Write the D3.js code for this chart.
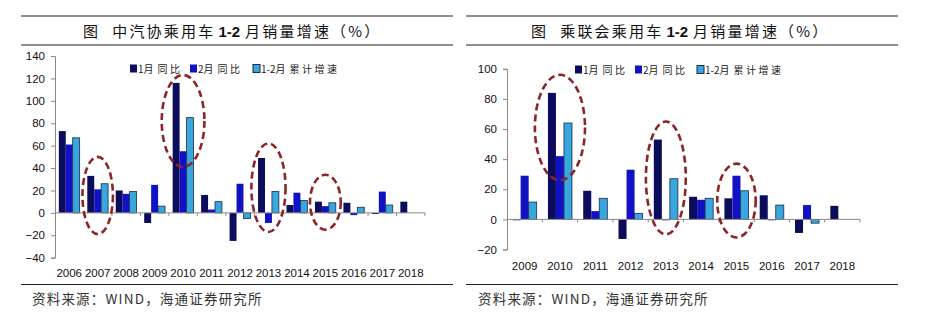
<!DOCTYPE html>
<html>
<head>
<meta charset="utf-8">
<script src="https://cdn.jsdelivr.net/npm/d3@7"></script>
<style>
  body { margin: 0; background: #fff; }
  svg { display: block; }
  text { font-family: "Liberation Sans", Arial, sans-serif; }
  .cjk { font-family: "Noto Sans CJK SC", sans-serif; }
</style>
</head>
<body>
<svg id="chart"></svg>
<script>
// left chart: CAAM passenger car Jan-Feb sales growth
let yearsA = ['2006', '2007', '2008', '2009', '2010', '2011', '2012', '2013', '2014', '2015', '2016', '2017', '2018'];
let janA = [73, 33, 20, -9, 116, 16, -25, 49, 7, 10, 9, -1, 10];
let febA = [61, 21, 17, 25, 55, 3, 26, -9, 18, 6, -2, 19, null];
let cumA = [67, 26, 19, 6, 85, 10, -5, 19, 11, 9, 5, 7, null];
let ticksA = [-40, -20, 0, 20, 40, 60, 80, 100, 120, 140];
let ringsA = [
  {year: '2007', top: 50, bottom: -19},
  {year: '2010', top: 123, bottom: 41},
  {year: '2013', top: 62, bottom: -17},
  {year: '2015', top: 34, bottom: -15}
];

// right chart: CPCA passenger car Jan-Feb sales growth
let yearsB = ['2009', '2010', '2011', '2012', '2013', '2014', '2015', '2016', '2017', '2018'];
let janB = [-0.6, 84, 19, -13, 53, 15, 14, 16, -9, 9];
let febB = [29, 42, 5.5, 33, -0.6, 13, 29, -0.6, 9.5, null];
let cumB = [11.5, 64, 14, 4, 27, 14, 19, 9.5, -2.5, null];
let ticksB = [-20, 0, 20, 40, 60, 80, 100];
let ringsB = [
  {year: '2010', top: 96, bottom: 26},
  {year: '2013', top: 65, bottom: -10},
  {year: '2015', top: 37, bottom: -12}
];

let seriesNames = [['1月', '同比'], ['2月', '同比'], ['1-2月', '累计增速']];
let colors = ['#0c0c5c', '#1212c4', '#37a7dd'];

let width = 926;
let height = 323;

let svg = d3.select('#chart').attr('width', width).attr('height', height);

let drawPanel = (cfg) => {
  let g = svg.append('g');

  // title rules
  [cfg.ruleTop, cfg.ruleBottom].forEach(y => {
    g.append('line')
      .attr('x1', cfg.ruleX0).attr('x2', cfg.ruleX1)
      .attr('y1', y).attr('y2', y)
      .attr('stroke', '#222').attr('stroke-width', 1.2);
  });

  let title = g.append('text')
    .attr('class', 'cjk')
    .attr('x', cfg.titleX).attr('y', 36.5)
    .attr('font-size', 15).attr('fill', '#111')
    .attr('letter-spacing', 2.2);
  title.append('tspan').text('图');
  title.append('tspan').attr('dx', 12).text(cfg.title[0]);
  title.append('tspan').attr('dx', 3)
    .attr('font-family', 'Liberation Sans').attr('font-weight', 'bold')
    .attr('letter-spacing', 0).text('1-2');
  title.append('tspan').attr('dx', 5).text(cfg.title[1]);

  // footer
  g.append('line')
    .attr('x1', cfg.ruleX0).attr('x2', cfg.ruleX1)
    .attr('y1', 284.5).attr('y2', 284.5)
    .attr('stroke', '#222').attr('stroke-width', 1.2);
  g.append('text')
    .attr('class', 'cjk')
    .attr('x', cfg.footX).attr('y', 304)
    .attr('font-size', 13.5).attr('fill', '#333')
    .attr('letter-spacing', 1.2)
    .text('资料来源：WIND，海通证券研究所');

  let xScale = d3.scaleBand()
    .domain(cfg.years)
    .range([cfg.x0, cfg.x1]);

  let inner = d3.scaleBand()
    .domain([0, 1, 2])
    .range([0, xScale.bandwidth()])
    .paddingOuter(cfg.groupPad);

  let yScale = d3.scaleLinear()
    .domain(cfg.yDomain)
    .range([cfg.yBottom, cfg.yTop]);

  // bars
  let rows = [];
  cfg.years.forEach((yr, i) => {
    cfg.series.forEach((vals, s) => {
      if (vals[i] !== null) rows.push({year: yr, s: s, v: vals[i]});
    });
  });

  g.selectAll('rect.bar')
    .data(rows)
    .enter()
    .append('rect')
    .attr('class', 'bar')
    .attr('x', d => xScale(d.year) + inner(d.s))
    .attr('width', inner.bandwidth())
    .attr('y', d => yScale(Math.max(0, d.v)))
    .attr('height', d => Math.abs(yScale(d.v) - yScale(0)))
    .attr('fill', d => colors[d.s])
    .attr('stroke', d => d.s === 2 ? '#1a2a4a' : 'none')
    .attr('stroke-width', 0.8);

  // y axis
  let yAxis = d3.axisLeft(yScale)
    .tickValues(cfg.ticks)
    .tickSize(4)
    .tickPadding(6)
    .tickFormat(d3.format('d'));
  let ya = g.append('g')
    .attr('transform', 'translate(' + cfg.x0 + ',0)')
    .call(yAxis);
  ya.select('.domain').attr('stroke', '#888');
  ya.selectAll('.tick line').attr('stroke', '#888');
  ya.selectAll('.tick text')
    .attr('font-size', 11.5).attr('fill', '#111')
    .attr('font-family', 'Liberation Sans');

  // x axis along zero line
  let xa = g.append('g');
  xa.append('line')
    .attr('x1', cfg.x0).attr('x2', cfg.x1)
    .attr('y1', yScale(0)).attr('y2', yScale(0))
    .attr('stroke', '#888');
  let bounds = cfg.years.map(y => xScale(y)).concat([cfg.x1]);
  xa.selectAll('line.tk')
    .data(bounds.slice(1))
    .enter()
    .append('line')
    .attr('class', 'tk')
    .attr('x1', d => d).attr('x2', d => d)
    .attr('y1', yScale(0)).attr('y2', yScale(0) + 3)
    .attr('stroke', '#888');
  xa.selectAll('text')
    .data(cfg.years)
    .enter()
    .append('text')
    .attr('x', d => xScale(d) + xScale.bandwidth() / 2)
    .attr('y', cfg.labelY)
    .attr('text-anchor', 'middle')
    .attr('font-size', 11.5).attr('fill', '#111')
    .text(d => d);

  // dashed rings
  g.selectAll('ellipse')
    .data(cfg.rings)
    .enter()
    .append('ellipse')
    .attr('cx', d => xScale(d.year) + xScale.bandwidth() / 2)
    .attr('cy', d => (yScale(d.top) + yScale(d.bottom)) / 2)
    .attr('rx', (d, i) => xScale.bandwidth() * cfg.ringSpan[i] / 2)
    .attr('ry', d => (yScale(d.bottom) - yScale(d.top)) / 2)
    .attr('fill', 'none')
    .attr('stroke', '#8a2629')
    .attr('stroke-width', 2.6)
    .attr('stroke-dasharray', '7,4');

  // legend
  let lg = g.append('g');
  seriesNames.forEach((name, i) => {
    let lx = cfg.legendX[i];
    lg.append('rect')
      .attr('x', lx).attr('y', cfg.legendY - 4.5)
      .attr('width', 7).attr('height', 8)
      .attr('fill', colors[i])
      .attr('stroke', i === 2 ? '#1a2a4a' : 'none')
      .attr('stroke-width', 1);
    let t = lg.append('text')
      .attr('class', 'cjk')
      .attr('x', lx + 8).attr('y', cfg.legendY + 3.5)
      .attr('font-size', 10).attr('fill', '#222');
    t.append('tspan').text(name[0]);
    t.append('tspan').attr('dx', 4).attr('letter-spacing', 2.5).text(name[1]);
  });
};

drawPanel({
  years: yearsA, series: [janA, febA, cumA], ticks: ticksA, rings: ringsA,
  ringSpan: [1.07, 1.5, 1.2, 1.08],
  title: ['中汽协乘用车', '月销量增速（%）'],
  titleX: 83, footX: 32,
  ruleX0: 21, ruleX1: 453, ruleTop: 16, ruleBottom: 45,
  x0: 55, x1: 425, yDomain: [-40, 140], yBottom: 257.7, yTop: 56,
  groupPad: 0.55, labelY: 277,
  legendX: [130, 190, 253], legendY: 69
});

drawPanel({
  years: yearsB, series: [janB, febB, cumB], ticks: ticksB, rings: ringsB,
  ringSpan: [1.42, 1.13, 1.09],
  title: ['乘联会乘用车', '月销量增速（%）'],
  titleX: 531, footX: 478,
  ruleX0: 466, ruleX1: 898, ruleTop: 16, ruleBottom: 45,
  x0: 507, x1: 860, yDomain: [-20, 100], yBottom: 249.5, yTop: 68.8,
  groupPad: 0.7, labelY: 270,
  legendX: [575, 635, 697], legendY: 70
});
</script>
</body>
</html>
